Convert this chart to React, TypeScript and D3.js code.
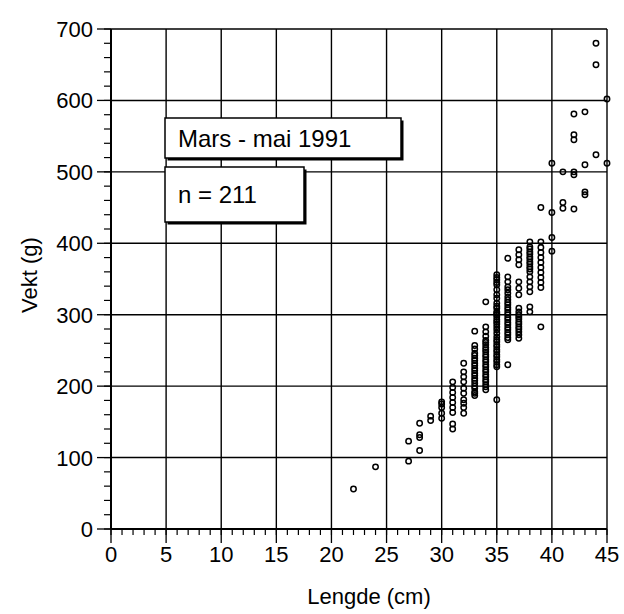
import React from "react";
import * as d3 from "d3";

// Lengths (cm) per column and their weights (g)
const col22 = [56];
const col24 = [87];
const col27 = [95, 123];
const col28 = [110, 128, 132, 148];
const col29 = [152, 158];
const col30 = [155, 162, 170, 175, 178];
const col31 = [140, 147, 163, 170, 177, 184, 191, 198, 206];
const col32 = [162, 170, 176, 181, 190, 197, 206, 213, 220, 232];
const col33 = [187, 190, 192, 197, 200, 204, 208, 211, 215, 218, 222, 225, 229, 232, 236, 239, 243, 246, 252, 257, 277];
const col34 = [195, 199, 202, 206, 209, 213, 216, 220, 223, 227, 230, 234, 237, 241, 244, 248, 251, 254, 258, 261, 264, 270, 276, 283, 318];
const col35 = [181, 227, 230, 234, 237, 241, 244, 248, 251, 255, 258, 262, 265, 269, 274, 279, 283, 287, 290, 293, 297, 300, 302, 304, 309, 312, 316, 323, 328, 335, 342, 345, 349, 352, 356];
const col36 = [230, 265, 268, 272, 275, 279, 282, 286, 289, 293, 296, 300, 303, 307, 310, 314, 317, 321, 325, 330, 335, 339, 346, 353, 379];
const col37 = [267, 272, 276, 280, 283, 287, 290, 294, 297, 300, 304, 309, 328, 337, 346, 370, 377, 384, 391];
const col38 = [304, 311, 332, 339, 346, 353, 360, 364, 367, 371, 374, 378, 381, 385, 388, 392, 395, 402];
const col39 = [283, 338, 345, 352, 359, 366, 373, 380, 387, 394, 402, 450];
const col40 = [389, 408, 443, 512];
const col41 = [449, 457, 500];
const col42 = [448, 496, 500, 545, 552, 581];
const col43 = [468, 472, 510, 584];
const col44 = [524, 650, 680];
const col45 = [512, 602];

const columns: [number, number[]][] = [
  [22, col22], [24, col24], [27, col27], [28, col28], [29, col29], [30, col30],
  [31, col31], [32, col32], [33, col33], [34, col34], [35, col35], [36, col36],
  [37, col37], [38, col38], [39, col39], [40, col40], [41, col41], [42, col42],
  [43, col43], [44, col44], [45, col45],
];

const xTicks = [0, 5, 10, 15, 20, 25, 30, 35, 40, 45];
const yTicks = [0, 100, 200, 300, 400, 500, 600, 700];
const xMinor = d3.range(0, 46, 1);
const yMinor = d3.range(0, 701, 20);

const FONT = "'Liberation Sans', Arial, Helvetica, sans-serif";

export default function App() {
  const x = d3.scaleLinear().domain([0, 45]).range([111, 607]);
  const y = d3.scaleLinear().domain([0, 700]).range([529, 29]);
  const points = columns.flatMap(([cm, ws]) => ws.map((w) => ({ cm, w })));

  return (
    <svg
      width={624}
      height={614}
      style={{ position: "absolute", left: 0, top: 0, background: "#fff" }}
      fontFamily={FONT}
    >
      <rect x={0} y={0} width={624} height={614} fill="#fff" />
      {/* grid */}
      {xTicks.map((t) => (
        <line key={"gx" + t} x1={x(t)} x2={x(t)} y1={y(700)} y2={y(0)} stroke="#000" strokeWidth={1.4} />
      ))}
      {yTicks.map((t) => (
        <line key={"gy" + t} x1={x(0)} x2={x(45)} y1={y(t)} y2={y(t)} stroke="#000" strokeWidth={1.4} />
      ))}
      {/* axes lines */}
      <line x1={x(0)} x2={x(0)} y1={y(700)} y2={y(0)} stroke="#000" strokeWidth={2} />
      <line x1={x(0)} x2={x(45)} y1={y(0)} y2={y(0)} stroke="#000" strokeWidth={2} />
      {/* minor ticks */}
      {xMinor.map((t) => (
        <line key={"mx" + t} x1={x(t)} x2={x(t)} y1={y(0)} y2={y(0) + 6} stroke="#000" strokeWidth={1.2} />
      ))}
      {yMinor.map((t) => (
        <line key={"my" + t} x1={x(0) - 7} x2={x(0)} y1={y(t)} y2={y(t)} stroke="#000" strokeWidth={1.2} />
      ))}
      {/* major ticks */}
      {xTicks.map((t) => (
        <line key={"tx" + t} x1={x(t)} x2={x(t)} y1={y(0)} y2={y(0) + 14} stroke="#000" strokeWidth={1.3} />
      ))}
      {yTicks.map((t) => (
        <line key={"ty" + t} x1={x(0) - 14} x2={x(0)} y1={y(t)} y2={y(t)} stroke="#000" strokeWidth={1.3} />
      ))}
      {/* tick labels */}
      {xTicks.map((t) => (
        <text key={"lx" + t} x={x(t)} y={562} textAnchor="middle" fontSize={22} fill="#000">
          {t}
        </text>
      ))}
      {yTicks.map((t) => (
        <text key={"ly" + t} x={93} y={y(t) + 8} textAnchor="end" fontSize={22} fill="#000">
          {t}
        </text>
      ))}
      {/* axis titles */}
      <text x={369} y={604} textAnchor="middle" fontSize={22} fill="#000">
        Lengde (cm)
      </text>
      <text
        transform={`translate(37, 275) rotate(-90)`}
        textAnchor="middle"
        fontSize={22}
        fill="#000"
      >
        Vekt (g)
      </text>
      {/* boxes */}
      <rect x={167.5} y={120.5} width={236} height={40} fill="#000" />
      <rect x={165} y={118} width={236} height={40} fill="#fff" stroke="#000" strokeWidth={1.5} />
      <text x={178} y={147} fontSize={24} fill="#000">
        Mars - mai 1991
      </text>
      <rect x={167.5} y={169.5} width={139} height={55} fill="#000" />
      <rect x={165} y={167} width={139} height={55} fill="#fff" stroke="#000" strokeWidth={1.5} />
      <text x={178} y={203} fontSize={24} fill="#000">
        n = 211
      </text>
      {/* points */}
      {points.map((p, i) => (
        <circle key={i} cx={x(p.cm)} cy={y(p.w)} r={2.7} fill="none" stroke="#000" strokeWidth={1.5} />
      ))}
    </svg>
  );
}
